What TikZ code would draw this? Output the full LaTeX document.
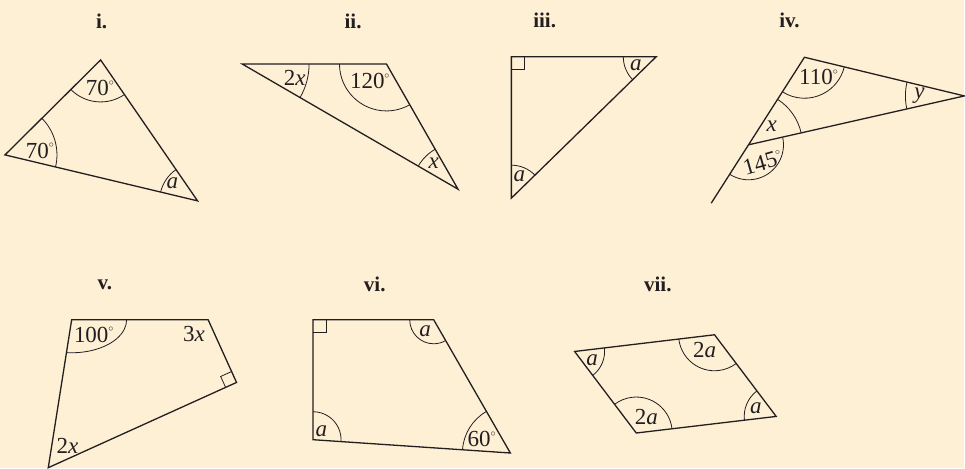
\documentclass[tikz,border=0pt]{standalone}
\usepackage{fontspec}
\setmainfont{Liberation Serif}
\usetikzlibrary{angles,calc}
\definecolor{paper}{RGB}{254,240,213}
\definecolor{ink}{RGB}{35,31,32}
\newcommand*{\dg}{\raisebox{0.45em}{\fontsize{10}{10}\selectfont$\circ$}}

\begin{document}
\begin{tikzpicture}
[
	x=1pt,y=-1pt,
	edge/.style={line width=1.3pt,line join=miter,ink},
	anglearc/.style={draw=ink,line width=0.8pt},
	lbl/.style={inner sep=0pt,text=ink,font=\fontsize{23}{23}\selectfont},
	heading/.style={inner sep=0pt,text=ink,font=\fontsize{21}{21}\selectfont\bfseries},
]

	% background
	\fill[paper] (0,0) rectangle (965,468);

	% headings
	\node[heading] (hi)   at (101.7,21.7) {i.};
	\node[heading] (hii)  at (353.3,21.7) {ii.};
	\node[heading] (hiii) at (545,20)     {iii.};
	\node[heading] (hiv)  at (790,20.7)   {iv.};
	\node[heading] (hv)   at (105,285)    {v.};
	\node[heading] (hvi)  at (375,285)    {vi.};
	\node[heading] (hvii) at (658.3,285)  {vii.};

	% i.
	\coordinate (L1) at (5,155);
	\coordinate (R1) at (197.7,201);
	\coordinate (T1) at (100.7,60);
	\draw[edge] (L1) -- (R1) -- (T1) -- cycle;
	\pic[anglearc,angle radius=42pt] {angle=L1--T1--R1};
	\pic[anglearc,angle radius=52pt] {angle=R1--L1--T1};
	\pic[anglearc,angle radius=38pt] {angle=T1--R1--L1};
	\node[lbl] (t1) at (100,88.3) {70\dg};
	\node[lbl] (l1) at (40,150.8) {70\dg};
	\node[lbl] (r1) at (172.5,183.3) {\textit{a}};

	% ii.
	\coordinate (A2) at (242.3,64);
	\coordinate (B2) at (386.7,64);
	\coordinate (C2) at (458.3,189.3);
	\draw[edge] (A2) -- (C2) -- (B2) -- cycle;
	\pic[anglearc,angle radius=67pt] {angle=C2--A2--B2};
	\pic[anglearc,angle radius=47pt] {angle=A2--B2--C2};
	\pic[anglearc,angle radius=46pt] {angle=B2--C2--A2};
	\node[lbl] (a2) at (295,77.5) {2\textit{x}};
	\node[lbl] (b2) at (370,81.3) {120\dg};
	\node[lbl] (c2) at (434,163.3) {\textit{x}};

	% iii.
	\coordinate (P3) at (511.7,56.7);
	\coordinate (Q3) at (656.7,56.7);
	\coordinate (S3) at (511.7,198.3);
	\draw[edge] (P3) -- (S3) -- (Q3) -- cycle;
	\pic[draw=ink,line width=0.8pt,angle radius=13pt] {right angle=S3--P3--Q3};
	\pic[anglearc,angle radius=33pt] {angle=P3--Q3--S3};
	\pic[anglearc,angle radius=33pt] {angle=Q3--S3--P3};
	\node[lbl] (q3) at (636.3,65) {\textit{a}};
	\node[lbl] (s3) at (519.7,176.7) {\textit{a}};

	% iv.
	\coordinate (T4) at (805,57.3);
	\coordinate (R4) at (965,96);
	\coordinate (E4) at (711.7,203.3);
	\coordinate (J4) at ($(E4)!0.4!(T4)$);
	\draw[edge] (E4) -- (T4) -- (R4) -- (J4);
	\pic[anglearc,angle radius=41pt] {angle=J4--T4--R4};
	\pic[anglearc,angle radius=59pt] {angle=T4--R4--J4};
	\pic[anglearc,angle radius=54pt] {angle=R4--J4--T4};
	\pic[anglearc,angle radius=35pt] {angle=E4--J4--R4};
	\node[lbl] (t4) at (819,77.2) {110\dg};
	\node[lbl] (r4) at (920,95.3) {\textit{y}};
	\node[lbl] (j4) at (772.2,126.5) {\textit{x}};
	\node[lbl,rotate=16] (e4) at (763,162.7) {145\dg};

	% v.
	\coordinate (A5) at (71.7,320);
	\coordinate (B5) at (208.3,320);
	\coordinate (C5) at (236.7,382.7);
	\coordinate (D5) at (48.3,468);
	\draw[edge] (A5) -- (D5) -- (C5) -- (B5) -- cycle;
	\draw[anglearc] ([shift={(-95.4:55pt and 33pt)}]A5) arc[start angle=-95.4,end angle=0,x radius=55pt,y radius=33pt];
	\pic[draw=ink,line width=0.8pt,angle radius=12pt] {right angle=B5--C5--D5};
	\node[lbl] (a5) at (93.8,335) {100\dg};
	\node[lbl] (b5) at (194,334.2) {3\textit{x}};
	\node[lbl] (d5) at (67.5,445.8) {2\textit{x}};

	% vi.
	\coordinate (A6) at (313.3,320);
	\coordinate (B6) at (434,320);
	\coordinate (C6) at (510.7,453.3);
	\coordinate (D6) at (313.3,440);
	\draw[edge] (A6) -- (D6) -- (C6) -- (B6) -- cycle;
	\pic[draw=ink,line width=0.8pt,angle radius=13pt] {right angle=D6--A6--B6};
	\pic[anglearc,angle radius=24pt] {angle=A6--B6--C6};
	\pic[anglearc,angle radius=48pt] {angle=B6--C6--D6};
	\pic[anglearc,angle radius=28pt] {angle=C6--D6--A6};
	\node[lbl] (b6) at (425.3,331.7) {\textit{a}};
	\node[lbl] (c6) at (482,439.2) {60\dg};
	\node[lbl] (d6) at (321.7,431.7) {\textit{a}};

	% vii.
	\coordinate (L7) at (575,351.7);
	\coordinate (T7) at (715,335);
	\coordinate (R7) at (776.7,416.7);
	\coordinate (B7) at (636.7,433.3);
	\draw[edge] (L7) -- (B7) -- (R7) -- (T7) -- cycle;
	\pic[anglearc,angle radius=30pt] {angle=B7--L7--T7};
	\pic[anglearc,angle radius=36pt] {angle=L7--T7--R7};
	\pic[anglearc,angle radius=32pt] {angle=T7--R7--B7};
	\pic[anglearc,angle radius=36pt] {angle=R7--B7--L7};
	\node[lbl] (l7) at (592.5,360) {\textit{a}};
	\node[lbl] (t7) at (705,350) {2\textit{a}};
	\node[lbl] (r7) at (756.3,408.3) {\textit{a}};
	\node[lbl] (b7) at (646.7,417.5) {2\textit{a}};

\end{tikzpicture}
\end{document}
